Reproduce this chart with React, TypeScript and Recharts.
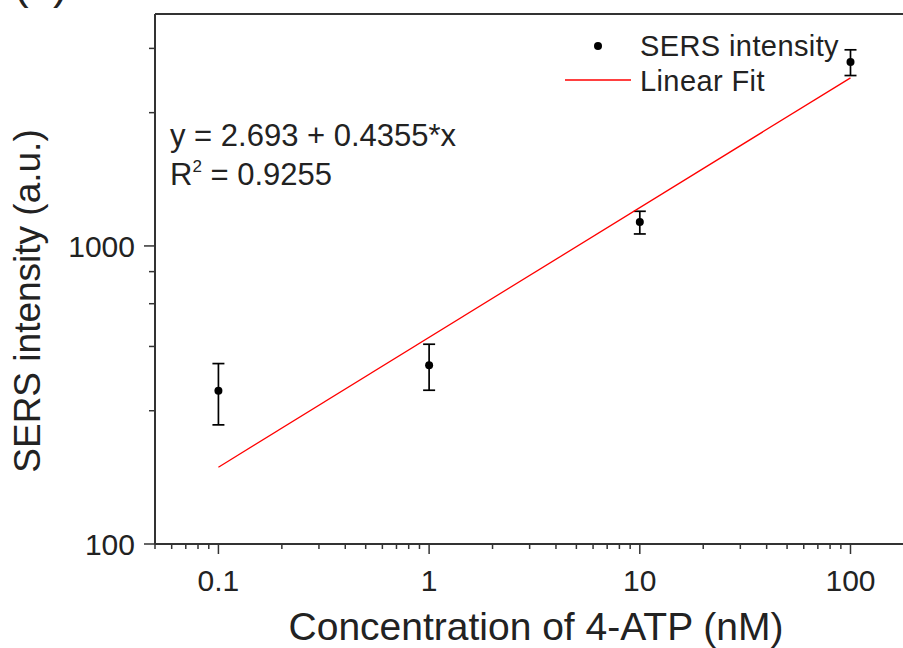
import React from "react";
import {
  ComposedChart,
  Scatter,
  XAxis,
  YAxis,
  ErrorBar,
  ReferenceLine,
  Customized,
} from "recharts";

// measured points (log-log)
const concentration = [0.1, 1, 10, 100];
const intensity = [327, 398, 1202, 4140];
const intensityErr = [76, 70, 105, 410];

// fitted line end points, y = 2.693 + 0.4355*x in log space
const fitX = [0.1, 100];
const fitY = [181, 3664];

const xMajor = [0.1, 1, 10, 100];
const xMinor = [
  0.05, 0.06, 0.07, 0.08, 0.09,
  0.2, 0.3, 0.4, 0.5, 0.6, 0.7, 0.8, 0.9,
  2, 3, 4, 5, 6, 7, 8, 9,
  20, 30, 40, 50, 60, 70, 80, 90,
];
const yMajor = [100, 1000];
const yMinor = [280, 460, 640, 820, 2800, 4600];

const points = concentration.map((x, i) => ({ x, y: intensity[i], err: intensityErr[i] }));
const fitData = fitX.map((x, i) => ({ x, y: fitY[i] }));

const AXIS = "#333";
const FONT = "'Liberation Sans', Arial, sans-serif";

function XTick(props: any) {
  const { x, y, payload } = props;
  const major = xMajor.includes(payload.value);
  return (
    <g>
      <line x1={x} x2={x} y1={y} y2={y + (major ? 10 : 5)} stroke={AXIS} strokeWidth={1.5} />
      {major && (
        <text x={x} y={y + 47} textAnchor="middle" fontSize={30} fontFamily={FONT} fill="#222">
          {payload.value}
        </text>
      )}
    </g>
  );
}

function YTick(props: any) {
  const { x, y, payload } = props;
  const major = yMajor.includes(payload.value);
  return (
    <g>
      <line x1={x} x2={x - (major ? 11 : 6)} y1={y} y2={y} stroke={AXIS} strokeWidth={1.5} />
      {major && (
        <text x={x - 20} y={y + 11} textAnchor="end" fontSize={30} fontFamily={FONT} fill="#222">
          {payload.value}
        </text>
      )}
    </g>
  );
}

function Overlay() {
  return (
    <g fontFamily={FONT} fill="#222">
      <text x={14} y={-1} fontSize={44}>(a)</text>
      <text x={170} y={146} fontSize={31}>y = 2.693 + 0.4355*x</text>
      <text x={170} y={185} fontSize={31}>
        R<tspan fontSize={17} dy={-13}>2</tspan>
        <tspan dy={13}> = 0.9255</tspan>
      </text>
      <circle cx={598} cy={46} r={4} fill="#000" />
      <text x={640} y={56} fontSize={29} letterSpacing={0.4}>SERS intensity</text>
      <line x1={565} x2={631} y1={80} y2={80} stroke="#ff0000" strokeWidth={1.3} />
      <text x={640} y={91} fontSize={29} letterSpacing={0.4}>Linear Fit</text>
      <text x={536} y={640} fontSize={39} textAnchor="middle">
        Concentration of 4-ATP (nM)
      </text>
      <text x={40} y={301} fontSize={37} textAnchor="middle" transform="rotate(-90 40 301)">
        SERS intensity (a.u.)
      </text>
    </g>
  );
}

export default function App() {
  return (
    <div style={{ position: "absolute", left: 0, top: 0, background: "#fff" }}>
      <ComposedChart width={903} height={648} margin={{ top: 14, right: 0, bottom: 0, left: 0 }}>
        <XAxis
          dataKey="x"
          type="number"
          scale="log"
          domain={[0.05, 177.5]}
          allowDataOverflow
          ticks={[...xMinor, ...xMajor].sort((a, b) => a - b)}
          interval={0}
          height={104}
          tickSize={0}
          tickMargin={0}
          tickLine={false}
          tick={(p: any) => <XTick {...p} />}
          axisLine={{ stroke: AXIS, strokeWidth: 2 }}
        />
        <YAxis
          dataKey="y"
          type="number"
          scale="log"
          domain={[100, 6000]}
          allowDataOverflow
          ticks={[...yMajor, ...yMinor].sort((a, b) => a - b)}
          interval={0}
          width={155}
          tickSize={0}
          tickMargin={0}
          tickLine={false}
          tick={(p: any) => <YTick {...p} />}
          axisLine={{ stroke: AXIS, strokeWidth: 2 }}
        />
        <ReferenceLine y={6000} stroke={AXIS} strokeWidth={2} />
        <Scatter
          data={fitData}
          dataKey="y"
          line={{ stroke: "#ff0000", strokeWidth: 1.3 }}
          shape={() => <g />}
          isAnimationActive={false}
        />
        <Scatter
          data={points}
          dataKey="y"
          fill="#000"
          shape={(p: any) => <circle cx={p.cx} cy={p.cy} r={4} fill="#000" />}
          isAnimationActive={false}
        >
          <ErrorBar dataKey="err" direction="y" width={6} stroke="#000" strokeWidth={1.7} isAnimationActive={false} />
        </Scatter>
        <Customized component={Overlay} />
      </ComposedChart>
    </div>
  );
}
